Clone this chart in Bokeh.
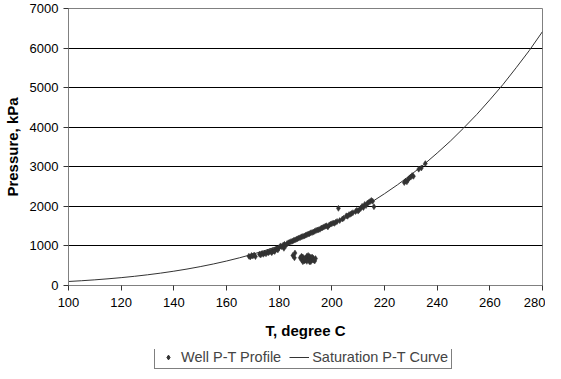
from bokeh.plotting import figure
from bokeh.layouts import column
from bokeh.models import Legend, LegendItem, FixedTicker, Range1d
from bokeh.embed import file_html
from bokeh.resources import INLINE

# Saturation P-T curve (steam table values), T in degC, P in kPa
sat_T = [100, 105, 110, 115, 120, 125, 130, 135, 140, 145, 150, 155, 160, 165, 170, 175,
         180, 185, 190, 195, 200, 205, 210, 215, 220, 225, 230, 235, 240, 245, 250, 255,
         260, 265, 270, 275, 280]
sat_P = [101.3, 120.8, 143.3, 169.1, 198.5, 232.1, 270.1, 313.0, 361.5, 415.4, 476.2, 543.5,
         618.2, 700.9, 792.2, 892.0, 1002.8, 1122.7, 1255.2, 1397.8, 1554.9, 1723.0, 1907.7,
         2104.2, 2319.6, 2547.9, 2797.1, 3060.1, 3346.9, 3648.2, 3976.2, 4319.2, 4692.3,
         5080.0, 5503.0, 5939.2, 6416.6]

# Well P-T profile measurements
well_T = [168.5, 169.0, 169.5, 170.0, 170.5, 171.0, 172.5, 173.0, 173.5, 174.0, 174.5, 175.0,
          175.5, 176.0, 176.5, 177.0, 177.5, 178.0, 178.5, 179.0, 180.0, 180.5, 181.0, 181.5,
          182.0, 182.5, 183.0, 183.5, 184.0, 184.5, 185.0, 185.5, 186.0, 186.5, 187.0, 187.5,
          188.0, 188.5, 189.0, 189.5, 190.0, 190.5, 191.0, 191.5, 192.0, 192.5, 193.0, 193.5,
          194.0, 194.5, 195.0, 195.5, 196.0, 196.5, 197.0, 197.5, 198.0, 198.5, 199.0, 199.5,
          200.0, 200.5, 201.0, 201.5, 202.0, 202.5, 203.0, 204.0, 204.5, 205.5, 206.0, 206.5,
          207.0, 207.5, 208.0, 209.0, 209.5, 210.0, 210.5, 211.0, 211.5, 212.0, 212.5, 213.0,
          213.5, 214.0, 214.5, 215.0, 215.5, 216.0, 227.5, 228.0, 228.5, 229.0, 229.5, 230.0,
          230.5, 231.0, 233.0, 234.0, 235.5,
          177.2, 178.3, 179.5, 181.8,
          185.2, 185.8, 186.0,
          188.0, 188.5, 189.0, 189.5, 190.0, 190.5, 191.0, 191.5, 192.0, 192.5, 193.0, 193.5,
          189.0, 190.0, 191.0, 192.0, 189.5, 190.5, 191.5, 192.5, 193.0, 188.5, 193.8]
well_P = [740, 720, 760, 745, 770, 730, 790, 770, 810, 790, 820, 800,
          840, 830, 860, 850, 880, 870, 900, 930, 960, 1000, 980, 1020,
          1040, 1010, 1060, 1080, 1090, 1110, 1120, 1140, 1150, 1170, 1180, 1200,
          1210, 1230, 1240, 1250, 1270, 1280, 1300, 1310, 1330, 1340, 1350, 1370,
          1390, 1400, 1410, 1420, 1450, 1460, 1480, 1500, 1510, 1480, 1530, 1550,
          1560, 1580, 1570, 1600, 1620, 1950, 1640, 1680, 1700, 1760, 1750, 1790,
          1800, 1820, 1840, 1870, 1900, 1880, 1920, 1950, 2000, 1970, 2050, 2020,
          2080, 2100, 2120, 2150, 2130, 1990, 2600, 2640, 2620, 2680, 2720, 2740,
          2780, 2760, 2940, 2970, 3080,
          830, 860, 900, 940,
          760, 700, 820,
          700, 650, 720, 620, 690, 740, 660, 600, 710, 650, 690, 620,
          600, 640, 760, 600, 680, 610, 730, 720, 640, 740, 680]

x_ticks = [100, 120, 140, 160, 180, 200, 220, 240, 260, 280]
y_ticks = [0, 1000, 2000, 3000, 4000, 5000, 6000, 7000]

FONT = "Liberation Sans"
PT_COLOR = "#333333"
LINE_COLOR = "#333333"

p = figure(width=545, height=349, output_backend="svg", toolbar_location=None,
           x_range=Range1d(100, 280), y_range=Range1d(0, 7000),
           min_border_left=64, min_border_right=3, min_border_top=8, min_border_bottom=64)
p.background_fill_color = "white"
p.border_fill_color = "white"
p.outline_line_color = "#808080"
p.outline_line_width = 1

for ax in (p.xaxis[0], p.yaxis[0]):
    ax.major_label_text_font = FONT
    ax.major_label_text_font_size = "13px"
    ax.major_label_text_color = "black"
    ax.axis_label_text_font = FONT
    ax.axis_label_text_font_size = "15px"
    ax.axis_label_text_font_style = "bold"
    ax.axis_label_text_color = "black"
    ax.axis_line_color = "#808080"
    ax.major_tick_line_color = "#333333"
    ax.major_tick_out = 5
    ax.major_tick_in = 0
    ax.minor_tick_line_color = None

p.xaxis.ticker = FixedTicker(ticks=x_ticks)
p.yaxis.ticker = FixedTicker(ticks=y_ticks)
p.xaxis.axis_label = "T, degree C"
p.yaxis.axis_label = "Pressure, kPa"
p.xaxis.major_label_standoff = 7
p.xaxis.axis_label_standoff = 12
p.yaxis.major_label_standoff = 5
p.yaxis.axis_label_standoff = 6

p.xgrid.grid_line_color = None
p.ygrid.grid_line_color = "black"
p.ygrid.grid_line_width = 1

p.line(sat_T, sat_P, line_color=LINE_COLOR, line_width=1)
p.scatter(well_T, well_P, marker="diamond", size=6, fill_color=PT_COLOR,
          line_color=PT_COLOR, line_width=0.5)

# Legend strip below the chart (renderers fall outside this strip's ranges)
lg = figure(width=545, height=22, output_backend="svg", toolbar_location=None,
            x_range=Range1d(0, 1), y_range=Range1d(0, 1),
            x_axis_location=None, y_axis_location=None, min_border=0)
lg.outline_line_color = None
lg.grid.visible = False
lg_pts = lg.scatter(well_T[:1], well_P[:1], marker="diamond", size=6,
                    fill_color=PT_COLOR, line_color=PT_COLOR)
lg_line = lg.line(sat_T, sat_P, line_color=LINE_COLOR, line_width=1)

legend = Legend(items=[LegendItem(label="Well P-T Profile", renderers=[lg_pts]),
                       LegendItem(label="Saturation P-T Curve", renderers=[lg_line])],
                location=(86, 2), orientation="horizontal")
legend.label_text_font = FONT
legend.label_text_font_size = "14.5px"
legend.label_height = 12
legend.glyph_height = 12
legend.glyph_width = 20
legend.padding = 3
legend.spacing = 8
legend.margin = 0
legend.label_standoff = 3
legend.border_line_color = "black"
legend.border_line_width = 1
legend.background_fill_alpha = 1
lg.add_layout(legend, "center")

layout = column(p, lg, spacing=0)
open("out.html", "w").write(file_html(layout, INLINE))
